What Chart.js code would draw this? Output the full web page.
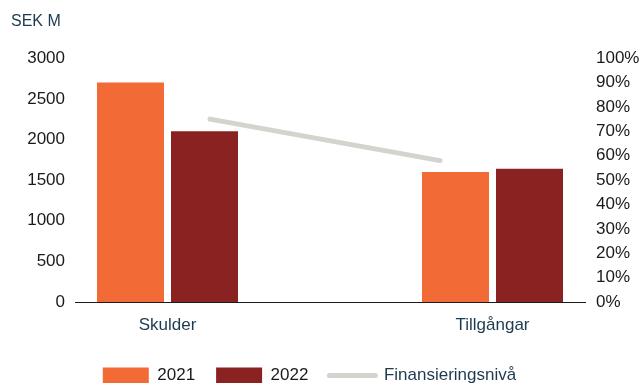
<!DOCTYPE html>
<html>
<head>
<meta charset="utf-8">
<script src="https://cdn.jsdelivr.net/npm/chart.js@4"></script>
<style>
  html, body { margin: 0; padding: 0; background: #fff; overflow: hidden; }
  #wrap { width: 642px; height: 394px; }
</style>
</head>
<body>
<div id="wrap"><canvas id="chart" width="642" height="394"></canvas></div>
<script>
// Balance figures, SEK M
const categories = ['Skulder', 'Tillgångar'];
const values2021 = [2700, 1600];
const values2022 = [2100, 1640];
// Financing level (share), right axis
const financingLevel = [0.75, 0.58];
// Axis tick values
const amountTicks = [0, 500, 1000, 1500, 2000, 2500, 3000];
const percentTicks = [0, 0.1, 0.2, 0.3, 0.4, 0.5, 0.6, 0.7, 0.8, 0.9, 1];

const ORANGE = '#f26a36';
const DARKRED = '#8b2222';
const GREY = '#d4d3ce';
const NAVY = '#1d3a4f';
const INK = '#1a1a1a';

Chart.defaults.font.family = "'Liberation Sans', Arial, sans-serif";

const toPoints = arr => arr.map((v, i) => ({ x: i, y: v }));

// Nudges the bottom legend slightly left of the canvas centre
const legendShift = {
  id: 'legendShift',
  afterLayout(chart, args, opts) {
    const lg = chart.legend;
    if (lg) { lg.left += opts.dx; lg.right += opts.dx; }
  }
};

new Chart(document.getElementById('chart'), {
  type: 'bar',
  plugins: [legendShift],
  data: {
    datasets: [
      {
        type: 'line',
        label: 'Finansieringsnivå',
        data: toPoints(financingLevel),
        borderColor: GREY,
        backgroundColor: GREY,
        borderWidth: 5,
        borderCapStyle: 'round',
        pointRadius: 0,
        xAxisID: 'x2', yAxisID: 'y2'
      },
      {
        label: '2021',
        data: toPoints(values2021),
        backgroundColor: ORANGE,
        xAxisID: 'x', yAxisID: 'y',
        categoryPercentage: 0.9108, barPercentage: 0.9054
      },
      {
        label: '2022',
        data: toPoints(values2022),
        backgroundColor: DARKRED,
        xAxisID: 'x', yAxisID: 'y',
        categoryPercentage: 0.9108, barPercentage: 0.9054
      }
    ]
  },
  options: {
    responsive: false,
    animation: false,
    devicePixelRatio: 1,
    layout: { padding: { left: 11, right: 0, top: 0, bottom: 0 } },
    scales: {
      x: {
        type: 'linear',
        position: 'bottom',
        min: -0.2846, max: 1.2846,
        offset: false,
        grid: { display: false, drawTicks: false },
        border: { display: true, color: INK, width: 1 },
        afterBuildTicks: s => { s.ticks = categories.map((_, i) => ({ value: i })); },
        ticks: {
          callback: v => categories[v],
          color: NAVY, font: { size: 17 }, padding: 13,
          maxRotation: 0, autoSkip: false
        },
        afterFit: s => { s.height = 44; }
      },
      x2: { type: 'linear', display: false, offset: false, min: -0.587, max: 1.63 },
      y: {
        position: 'left',
        min: 0, max: 3000,
        afterBuildTicks: s => { s.ticks = amountTicks.map(v => ({ value: v })); },
        grid: { display: false, drawTicks: false },
        border: { display: false },
        ticks: { callback: v => String(v), color: INK, font: { size: 17 }, padding: 10 },
        afterFit: s => { s.width = 64; }
      },
      y2: {
        position: 'right',
        min: 0, max: 1,
        afterBuildTicks: s => { s.ticks = percentTicks.map(v => ({ value: v })); },
        grid: { display: false, drawTicks: false },
        border: { display: false },
        ticks: {
          callback: v => Math.round(v * 100) + '%',
          color: INK, font: { size: 17 }, padding: 11
        },
        afterFit: s => { s.width = 57; }
      }
    },
    plugins: {
      legendShift: { dx: -17 },
      title: {
        display: true,
        text: 'SEK M',
        align: 'start',
        color: NAVY,
        font: { size: 16, weight: 'normal' },
        padding: { top: 12, bottom: 27 }
      },
      legend: {
        position: 'bottom',
        labels: {
          usePointStyle: true,
          pointStyleWidth: 46,
          boxHeight: 16,
          padding: 21,
          font: { size: 17 },
          sort: (a, b) => {
            const rank = item => item.pointStyle === 'line' ? 99 : item.datasetIndex;
            return rank(a) - rank(b);
          },
          generateLabels: chart => {
            const items = Chart.defaults.plugins.legend.labels.generateLabels(chart);
            return items.map(item => {
              const ds = chart.data.datasets[item.datasetIndex];
              if (ds.type === 'line') {
                return Object.assign(item, {
                  pointStyle: 'line', lineWidth: 5, lineCap: 'round',
                  strokeStyle: GREY, fillStyle: GREY, fontColor: NAVY
                });
              }
              return Object.assign(item, {
                pointStyle: 'rect', lineWidth: 0, fontColor: INK
              });
            });
          }
        }
      },
      tooltip: { enabled: false }
    }
  }
});
</script>
</body>
</html>
